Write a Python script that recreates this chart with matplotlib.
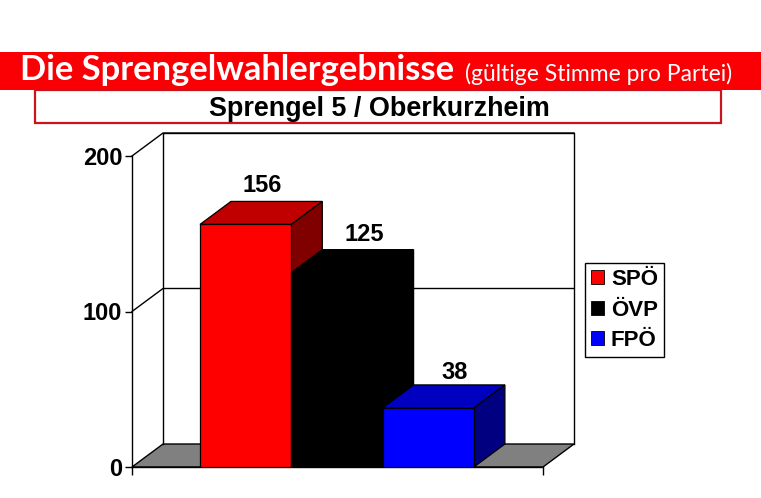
import matplotlib
matplotlib.use("Agg")
import matplotlib.pyplot as plt
from matplotlib.patches import Rectangle, Patch

W, H = 761, 498
parties = ["SPÖ", "ÖVP", "FPÖ"]
votes = [156, 125, 38]
front_cols = ["#ff0000", "#000000", "#0000ff"]
top_cols = ["#c00000", "#000000", "#0000c0"]
side_cols = ["#800000", "#000000", "#000080"]
yticks = [0, 100, 200]

title_main = "Die Sprengelwahlergebnisse"
title_note = "(gültige Stimme pro Partei)"
subtitle = "Sprengel 5 / Oberkurzheim"

# value-label offsets from the bar's back-top edge, in pixels
label_dx = [17, 27, 26]
label_dy = [15.5, 15.5, 12.5]

plt.rcParams["font.family"] = ["Liberation Sans", "DejaVu Sans"]
fig = plt.figure(figsize=(W / 100, H / 100), dpi=100, facecolor="white")


def fx(p):
    return p / W


def fy(p):
    return 1 - p / H


# header band and subtitle box
fig.add_artist(Rectangle((0, fy(90)), 1, 38 / H, transform=fig.transFigure, fc="#fa0005", ec="none"))
fig.add_artist(Rectangle((fx(35), fy(123)), 686 / W, 33 / H, transform=fig.transFigure,
                         fc="white", ec="#c8141e", lw=1.6))
fig.text(fx(20), fy(80), title_main, color="white", family="Lato", weight="bold", fontsize=24.8, va="baseline")
fig.text(fx(465), fy(81), title_note, color="white", family="Lato", fontsize=16.5, va="baseline")
fig.text(fx(379), fy(116), subtitle, color="black", weight="bold", fontsize=19.4, ha="center", va="baseline")

# axes: left edge = front axis, right edge = back wall, bottom = value 0
ax = fig.add_axes([fx(132), fy(467), 442 / W, 334 / H])
unit = 91.3           # px per bar
px_per_val = 311 / 200
dep_x = 31 / unit     # depth offset, data units
dep_y = 23 / px_per_val
x0 = -68 / unit
x1 = x0 + 442 / unit
ax.set_xlim(x0, x1)
ax.set_ylim(0, 334 / px_per_val)
ax.patch.set_visible(False)
for s in ["top", "right", "bottom"]:
    ax.spines[s].set_visible(False)
ax.spines["left"].set_bounds(0, 200)
ax.spines["left"].set_linewidth(1)
ax.set_yticks(yticks)
ax.set_yticklabels([str(v) for v in yticks], fontsize=17, fontweight="bold")
ax.tick_params(axis="y", length=5, width=1, pad=2)
front_r = x1 - dep_x
ax.set_xticks([x0, front_r])
ax.set_xticklabels([])
ax.tick_params(axis="x", length=6, width=1)

# floor
ax.fill([x0, x0 + dep_x, x1, front_r], [0, dep_y, dep_y, 0], fc="#808080", ec="black", lw=1, clip_on=False, zorder=0.5)
# back wall and side wall
ax.plot([x0 + dep_x, x0 + dep_x, x1, x1], [dep_y, 200 + dep_y, 200 + dep_y, dep_y], color="black", lw=1, clip_on=False, zorder=0.6)
for v in yticks[1:]:
    ax.plot([x0, x0 + dep_x, x1], [v, v + dep_y, v + dep_y], color="black", lw=1, clip_on=False, zorder=0.6)
ax.plot([x0, front_r], [0, 0], color="black", lw=1, clip_on=False, zorder=0.6)

# bars
for i, v in enumerate(votes):
    z = 2 + i
    ax.fill([i, i + dep_x, i + 1 + dep_x, i + 1], [v, v + dep_y, v + dep_y, v], fc=top_cols[i], ec="black", lw=0.9, zorder=z)
    ax.fill([i + 1, i + 1 + dep_x, i + 1 + dep_x, i + 1], [0, dep_y, v + dep_y, v], fc=side_cols[i], ec="black", lw=0.9, zorder=z)
    ax.bar(i + 0.5, v, width=1, color=front_cols[i], edgecolor="black", lw=0.9, zorder=z)
    ax.annotate(str(v), xy=(i + 0.5, v + dep_y), xytext=(label_dx[i] * 0.72, label_dy[i] * 0.72),
                textcoords="offset points", ha="center", va="center",
                fontsize=17, fontweight="bold", annotation_clip=False, zorder=10)

handles = [Patch(fc=c, ec="black", lw=0.6) for c in front_cols]
leg = fig.legend(handles, parties, loc="upper left", bbox_to_anchor=(fx(584.5), fy(263)),
                 bbox_transform=fig.transFigure, borderaxespad=0, fancybox=False, framealpha=1,
                 edgecolor="black", prop={"weight": "bold", "size": 16}, handlelength=0.62,
                 handleheight=0.62, handletextpad=0.3, labelspacing=0.43, borderpad=0.27)
leg.get_frame().set_linewidth(1)

fig.savefig("out.png", dpi=100)
